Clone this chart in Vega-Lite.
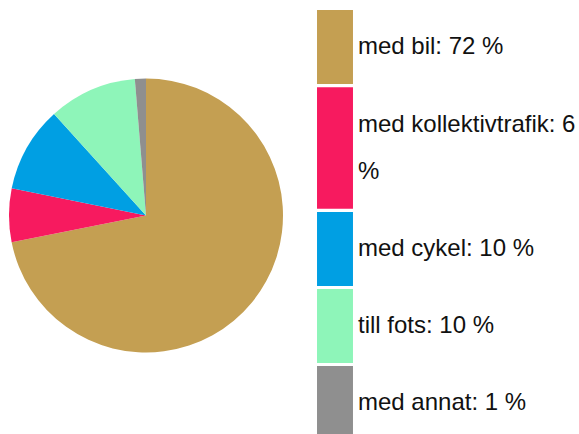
{
  "$schema": "https://vega.github.io/schema/vega-lite/v6.json",
  "width": 292,
  "height": 431,
  "padding": 0,
  "autosize": {"type": "pad"},
  "background": "white",
  "config": {"view": {"stroke": null}},
  "data": {
    "values": [
      {"nr": 1, "etikett": "med bil: 72 %", "andel": 71.8},
      {"nr": 2, "etikett": "med kollektivtrafik: 6 %", "andel": 6.3},
      {"nr": 3, "etikett": "med cykel: 10 %", "andel": 10.1},
      {"nr": 4, "etikett": "till fots: 10 %", "andel": 10.4},
      {"nr": 5, "etikett": "med annat: 1 %", "andel": 1.3}
    ]
  },
  "mark": {"type": "arc", "radius": 137},
  "encoding": {
    "theta": {"field": "andel", "type": "quantitative", "stack": true},
    "order": {"field": "nr", "type": "quantitative"},
    "color": {
      "field": "etikett",
      "type": "nominal",
      "sort": null,
      "scale": {
        "domain": ["med bil: 72 %", "med kollektivtrafik: 6 %", "med cykel: 10 %", "till fots: 10 %", "med annat: 1 %"],
        "range": ["#c49f52", "#f71a5f", "#009fe3", "#8ef5b9", "#8f8f8f"]
      },
      "legend": {
        "title": null,
        "orient": "none",
        "legendX": 298,
        "legendY": 10,
        "direction": "vertical",
        "padding": 0,
        "symbolType": "M-0.486,-1H0.486V1H-0.486Z",
        "symbolSize": 5476,
        "symbolStrokeWidth": 0,
        "rowPadding": 3,
        "labelFont": "Liberation Sans",
        "labelFontSize": 24,
        "labelColor": "#111111",
        "labelOffset": -14,
        "labelLimit": 300,
        "labelExpr": "datum.label == 'med kollektivtrafik: 6 %' ? ['med kollektivtrafik: 6', '%'] : datum.label",
        "encode": {
          "symbols": {
            "update": {
              "shape": {"signal": "datum.value == 'med kollektivtrafik: 6 %' ? 'M-0.486,-1.64H0.486V1.64H-0.486Z' : 'M-0.486,-1H0.486V1H-0.486Z'"}
            }
          },
          "labels": {
            "update": {
              "lineHeight": {"value": 47},
              "dy": {"signal": "datum.value == 'med kollektivtrafik: 6 %' ? -23.5 : 0"}
            }
          }
        }
      }
    }
  }
}
